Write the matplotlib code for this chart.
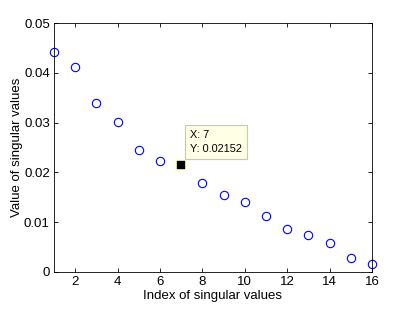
import matplotlib
matplotlib.use("Agg")
import matplotlib.pyplot as plt

plt.rcParams['font.family'] = ['Liberation Sans', 'DejaVu Sans']

index = list(range(1, 17))
values = [0.0442, 0.0412, 0.0340, 0.0301, 0.0245, 0.0222, 0.02152, 0.0179,
          0.0154, 0.0140, 0.01125, 0.00857, 0.00737, 0.00582, 0.00275, 0.00167]
sel_x = 7
sel_y = 0.02152
xticks = [2, 4, 6, 8, 10, 12, 14, 16]
yticks = [0, 0.01, 0.02, 0.03, 0.04, 0.05]
ytick_labels = ['0', '0.01', '0.02', '0.03', '0.04', '0.05']

fig = plt.figure(figsize=(4.11, 3.10), dpi=100)
ax = fig.add_axes([0.1314, 0.1226, 0.7736, 0.8032])

ax.plot([x for x in index if x != sel_x], [v for x, v in zip(index, values) if x != sel_x],
        linestyle='none', marker='o', markersize=6, markerfacecolor='none',
        markeredgecolor='#0000ff', markeredgewidth=0.8, clip_on=False)
ax.plot([sel_x], [sel_y], linestyle='none', marker='s', markersize=6.5,
        markerfacecolor='black', markeredgecolor='#ffffcc', markeredgewidth=1.2, clip_on=False)

ax.annotate('X: 7\nY: 0.02152', xy=(sel_x, sel_y), xytext=(9, 11),
            textcoords='offset pixels', fontsize=7.8, ha='left', va='bottom',
            linespacing=1.45,
            bbox=dict(boxstyle='square,pad=0.5', facecolor='#ffffe6', edgecolor='#c8c8b4', linewidth=0.8))

ax.set_xlim(1, 16)
ax.set_ylim(0, 0.05)
ax.set_xticks(xticks)
ax.set_yticks(yticks)
ax.set_yticklabels(ytick_labels)
ax.tick_params(direction='in', top=True, right=True, labelsize=9.5, length=3, width=0.6, pad=3)
for s in ax.spines.values():
    s.set_linewidth(0.6)
ax.set_xlabel('Index of singular values', fontsize=9.5, labelpad=1)
ax.set_ylabel('Value of singular values', fontsize=9.5, labelpad=1)

fig.savefig('out.png', dpi=100)
